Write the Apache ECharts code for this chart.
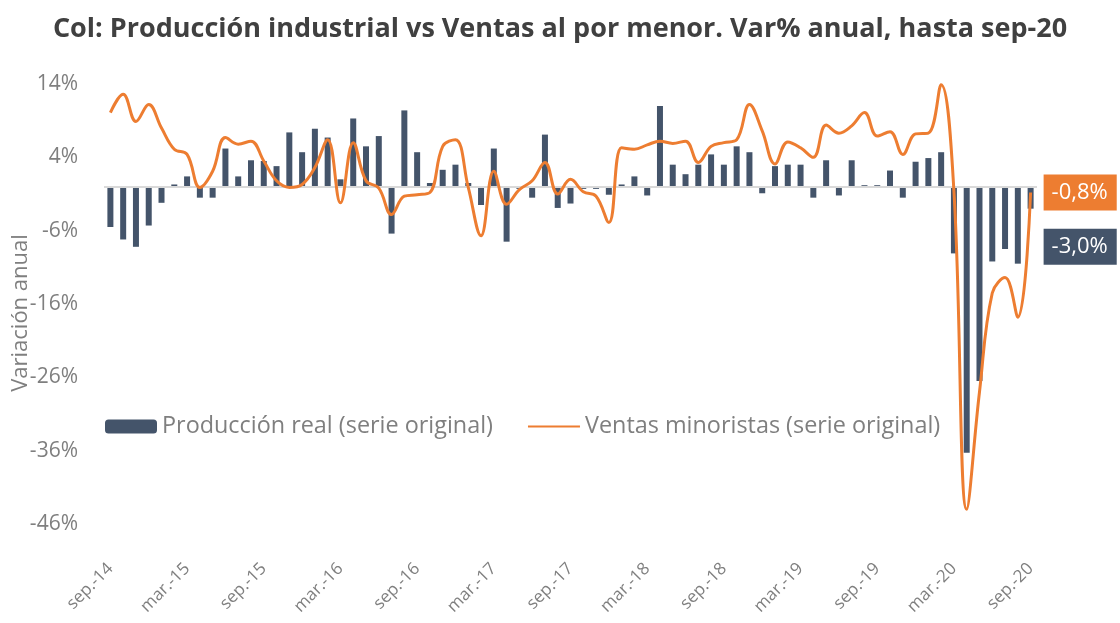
<!DOCTYPE html>
<html>
<head>
<meta charset="utf-8">
<script src="https://cdn.jsdelivr.net/npm/echarts@6/dist/echarts.min.js"></script>
<style>
  html, body { margin: 0; padding: 0; background: #fff; }
  #chart { width: 1120px; height: 623px; }
</style>
</head>
<body>
<div id="chart"></div>
<script>
// meses, sep-14 .. sep-20
const months = [
  'sep.-14', 'oct.-14', 'nov.-14', 'dic.-14',
  'ene.-15', 'feb.-15', 'mar.-15', 'abr.-15', 'may.-15', 'jun.-15', 'jul.-15', 'ago.-15', 'sep.-15', 'oct.-15', 'nov.-15', 'dic.-15',
  'ene.-16', 'feb.-16', 'mar.-16', 'abr.-16', 'may.-16', 'jun.-16', 'jul.-16', 'ago.-16', 'sep.-16', 'oct.-16', 'nov.-16', 'dic.-16',
  'ene.-17', 'feb.-17', 'mar.-17', 'abr.-17', 'may.-17', 'jun.-17', 'jul.-17', 'ago.-17', 'sep.-17', 'oct.-17', 'nov.-17', 'dic.-17',
  'ene.-18', 'feb.-18', 'mar.-18', 'abr.-18', 'may.-18', 'jun.-18', 'jul.-18', 'ago.-18', 'sep.-18', 'oct.-18', 'nov.-18', 'dic.-18',
  'ene.-19', 'feb.-19', 'mar.-19', 'abr.-19', 'may.-19', 'jun.-19', 'jul.-19', 'ago.-19', 'sep.-19', 'oct.-19', 'nov.-19', 'dic.-19',
  'ene.-20', 'feb.-20', 'mar.-20', 'abr.-20', 'may.-20', 'jun.-20', 'jul.-20', 'ago.-20', 'sep.-20'
]

// Producción real (serie original), var% anual
const produccion = [
  -5.5, -7.2, -8.2, -5.3,
  -2.2, 0.3, 1.4, -1.5, -1.5, 5.2, 1.4, 3.6, 3.5, 2.8, 7.4, 4.7,
  7.9, 6.7, 1.0, 9.3, 5.5, 6.9, -6.4, 10.4, 4.7, 0.5, 2.3, 3.0,
  0.5, -2.5, 5.2, -7.5, -0.3, -1.5, 7.1, -2.9, -2.3, -0.3, -0.3, -1.1,
  0.3, 1.4, -1.2, 11.0, 3.0, 1.7, 3.0, 4.4, 3.0, 5.5, 4.7, -0.9,
  2.8, 3.0, 3.0, -1.5, 3.6, -1.2, 3.6, 0.2, 0.2, 2.2, -1.5, 3.4,
  3.9, 4.7, -9.1, -36.3, -26.5, -10.2, -8.5, -10.5, -3.0
]

// Ventas minoristas (serie original), var% anual
const ventas = [
  10.1, 12.6, 8.9, 11.2,
  8.0, 5.1, 4.4, -0.1, 2.1, 6.7, 5.8, 6.2, 3.5, 0.8, -0.1, 0.3,
  2.6, 6.4, -2.2, 6.0, 0.8, -0.2, -3.8, -1.3, -1.1, -0.8, 5.5, 6.4,
  -0.1, -6.7, 2.1, -2.4, -0.4, 0.8, 3.3, -1.0, 1.0, -0.7, -1.3, -4.9,
  5.3, 5.1, 5.7, 6.2, 5.9, 6.2, 3.3, 5.5, 6.0, 6.4, 11.2, 7.6,
  3.1, 6.1, 5.3, 4.0, 8.4, 7.3, 8.3, 10.1, 6.9, 7.5, 4.4, 7.2,
  7.3, 13.9, -0.6, -44.0, -28.0, -14.5, -12.4, -17.8, -0.8
]

const yTicks = { min: -46, max: 14, step: 10 }

const FONT = '"Open Sans", "Noto Sans", sans-serif'
const GRAY = '#7f7f7f'
const BLUE = '#44546a'
const ORANGE = '#ed7d31'
const NAME_PROD = 'Producción real (serie original)'
const NAME_VENTAS = 'Ventas minoristas (serie original)'

function pct(v) {
  return v.toFixed(1).replace('.', ',') + '%'
}

const chart = echarts.init(document.getElementById('chart'))

const barData = produccion.map((v, i) => {
  if (i !== produccion.length - 1) return v
  return {
    value: v,
    label: {
      show: true,
      position: 'right',
      offset: [5, 49],
      formatter: p => pct(p.value),
      backgroundColor: BLUE,
      color: '#fff',
      fontSize: 22,
      fontFamily: FONT,
      padding: [7, 9, 7, 8]
    }
  }
})

chart.setOption({
  animation: false,
  textStyle: { fontFamily: FONT },
  title: {
    text: 'Col: Producción industrial vs Ventas al por menor. Var% anual, hasta sep-20',
    left: 'center',
    top: 11,
    textStyle: {
      fontSize: 27,
      fontWeight: 'bold',
      color: '#404040',
      fontFamily: FONT
    }
  },
  grid: {
    left: 104,
    right: 83,
    top: 84,
    bottom: 99,
    containLabel: false,
    outerBoundsMode: 'none'
  },
  legend: {
    left: 105,
    top: 415,
    padding: 0,
    itemWidth: 52,
    itemHeight: 14,
    itemGap: 34,
    textStyle: { fontSize: 23.4, color: GRAY, fontFamily: FONT },
    data: [
      { name: NAME_PROD },
      { name: NAME_VENTAS, itemStyle: { color: 'rgba(0,0,0,0)', borderColor: 'rgba(0,0,0,0)', borderWidth: 0 } }
    ]
  },
  xAxis: {
    type: 'category',
    data: months,
    axisLine: { show: false },
    axisTick: { show: false },
    axisLabel: {
      interval: 5,
      rotate: 45,
      margin: 42,
      color: GRAY,
      fontSize: 17,
      fontFamily: FONT
    }
  },
  yAxis: {
    type: 'value',
    min: yTicks.min,
    max: yTicks.max,
    interval: yTicks.step,
    name: 'Variación anual',
    nameLocation: 'middle',
    nameGap: 72,
    nameMoveOverlap: false,
    nameTextStyle: { color: GRAY, fontSize: 22, fontFamily: FONT, padding: [0, 18, 0, 0] },
    splitLine: { show: false },
    axisLine: { show: false },
    axisTick: { show: false },
    axisLabel: {
      formatter: '{value}%',
      margin: 26,
      color: GRAY,
      fontSize: 21,
      fontFamily: FONT
    }
  },
  series: [
    {
      name: NAME_PROD,
      type: 'bar',
      barWidth: 6,
      itemStyle: { color: BLUE },
      data: barData,
      markLine: {
        silent: true,
        symbol: 'none',
        label: { show: false },
        lineStyle: { color: '#d9d9d9', width: 2, type: 'solid' },
        data: [{ yAxis: 0 }]
      }
    },
    {
      name: NAME_VENTAS,
      type: 'line',
      smooth: 0.4,
      symbol: 'none',
      z: 5,
      itemStyle: { color: ORANGE },
      lineStyle: { color: ORANGE, width: 3 },
      data: ventas,
      endLabel: {
        show: true,
        distance: 13,
        formatter: p => pct(p.value),
        backgroundColor: ORANGE,
        color: '#fff',
        fontSize: 22,
        fontFamily: FONT,
        padding: [7, 9, 7, 8]
      }
    }
  ]
})
</script>
</body>
</html>
